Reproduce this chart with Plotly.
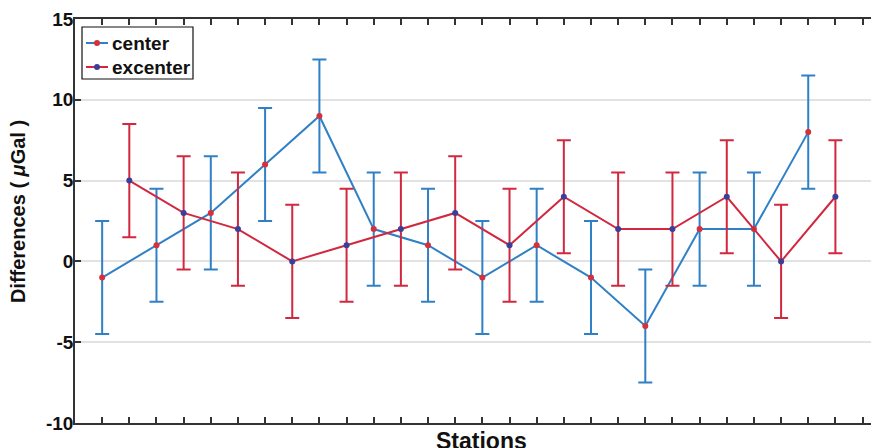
import plotly.graph_objects as go

# Data
center_x = [1, 3, 5, 7, 9, 11, 13, 15, 17, 19, 21, 23, 25, 27]
center_y = [-1, 1, 3, 6, 9, 2, 1, -1, 1, -1, -4, 2, 2, 8]
center_err = [3.5] * 14

excenter_x = [2, 4, 6, 8, 10, 12, 14, 16, 18, 20, 22, 24, 26, 28]
excenter_y = [5, 3, 2, 0, 1, 2, 3, 1, 4, 2, 2, 4, 0, 4]
excenter_err = [3.5] * 14

series_names = ["center", "excenter"]
station_ticks = list(range(1, 31))
y_ticks = [-10, -5, 0, 5, 10, 15]

BLUE = "#2f80c6"
RED = "#d1283f"
BLUE_MARK = "#d6303a"
RED_MARK = "#3a3f9a"
FONT = "Liberation Sans, Arial, sans-serif"

# plot-area geometry (screen pixels) used to place the hand-made legend
PL, PR, PT, PB = 75, 887, 19, 423


def px(xp):
    return (xp - PL) / (PR - PL)


def py(yp):
    return (PB - yp) / (PB - PT)


fig = go.Figure()
fig.add_trace(go.Scatter(
    x=center_x, y=center_y, name=series_names[0], mode="lines+markers",
    line=dict(color=BLUE, width=2),
    marker=dict(color=BLUE_MARK, size=6, line=dict(width=0)),
    error_y=dict(type="data", array=center_err, visible=True, color=BLUE, thickness=2, width=7),
))
fig.add_trace(go.Scatter(
    x=excenter_x, y=excenter_y, name=series_names[1], mode="lines+markers",
    line=dict(color=RED, width=2),
    marker=dict(color=RED_MARK, size=6, line=dict(width=0)),
    error_y=dict(type="data", array=excenter_err, visible=True, color=RED, thickness=2, width=7),
))

fig.update_layout(
    width=879, height=448,
    margin=dict(l=67, r=0, t=11, b=33),
    plot_bgcolor="white", paper_bgcolor="white",
    font=dict(family=FONT, size=18, color="#111"),
    showlegend=False,
    xaxis=dict(
        range=[0, 29.9], tickvals=station_ticks, showticklabels=False,
        ticks="inside", ticklen=6, tickwidth=1.5, tickcolor="#333",
        showline=True, linecolor="#333", linewidth=1.5, mirror="ticks",
        showgrid=False, zeroline=False,
    ),
    yaxis=dict(
        range=[-10, 15], tickvals=y_ticks, ticktext=[str(v) for v in y_ticks],
        ticks="inside", ticklen=6, tickwidth=1.5, tickcolor="#333",
        showline=True, linecolor="#333", linewidth=1.5,
        showgrid=True, gridcolor="#e2e2e2", gridwidth=1.5, zeroline=False,
        tickfont=dict(family=FONT, size=19, color="#111", weight="bold"),
        ticklabelstandoff=-4,
    ),
)

# Legend (drawn by hand to match the compact MATLAB-style box)
fig.add_shape(type="rect", xref="paper", yref="paper",
              x0=px(82), x1=px(193), y0=py(79), y1=py(27),
              line=dict(color="#111", width=1.2), fillcolor="white", layer="above")
legend_rows = [(43, BLUE, BLUE_MARK, series_names[0]), (67, RED, RED_MARK, series_names[1])]
for yy, lc, mc, name in legend_rows:
    fig.add_shape(type="line", xref="paper", yref="paper",
                  x0=px(86), x1=px(108), y0=py(yy), y1=py(yy),
                  line=dict(color=lc, width=2), layer="above")
    fig.add_shape(type="circle", xref="paper", yref="paper",
                  x0=px(94), x1=px(100), y0=py(yy + 3), y1=py(yy - 3),
                  line=dict(width=0), fillcolor=mc, layer="above")
    fig.add_annotation(text=f"<b>{name}</b>", xref="paper", yref="paper",
                       x=px(110), y=py(yy), xanchor="left", yanchor="middle",
                       showarrow=False, font=dict(family=FONT, size=19, color="#111"))

fig.add_annotation(
    text="<b>Stations</b>", xref="paper", yref="paper", x=0.5, y=0,
    xanchor="center", yanchor="top", yshift=-3, showarrow=False,
    font=dict(family=FONT, size=23, color="#111"),
)
fig.add_annotation(
    text="<b>Differences ( <i>\u03bc</i>Gal )</b>", xref="paper", yref="paper",
    x=0, y=0.522, xshift=-57, textangle=-90, xanchor="center", yanchor="middle",
    showarrow=False, font=dict(family=FONT, size=20, color="#111"),
)

fig.write_html("out.html")
